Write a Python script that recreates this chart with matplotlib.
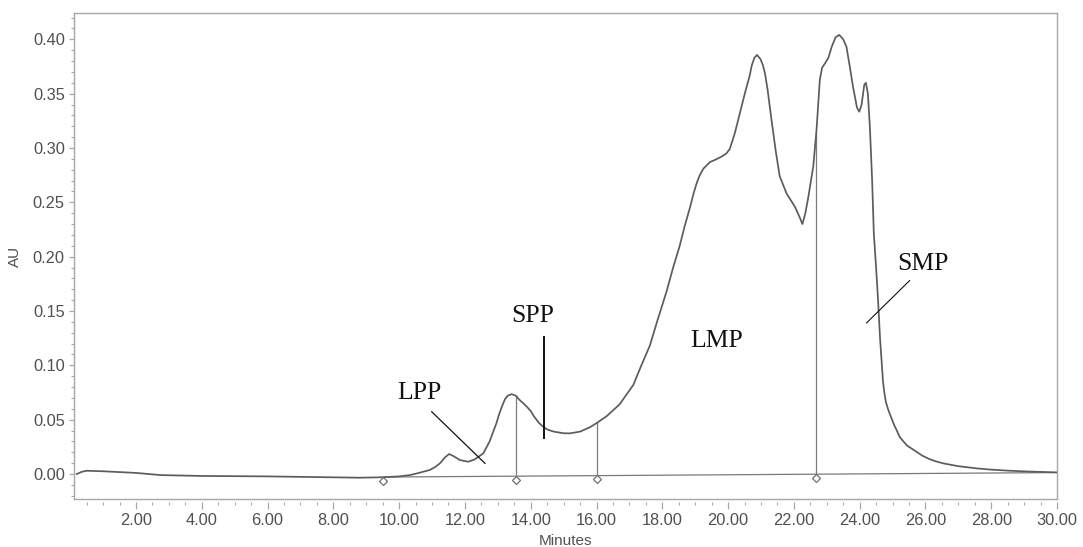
import numpy as np
import matplotlib
matplotlib.use("Agg")
import matplotlib.pyplot as plt
from matplotlib.lines import Line2D
from matplotlib.ticker import MultipleLocator, FormatStrFormatter

# ---- data ----
minutes = [0.20, 0.35, 0.50, 1.00, 2.00, 2.75, 4.00, 6.00, 8.00, 8.80, 9.50, 10.00,
           10.33, 10.60, 10.93, 11.10, 11.24, 11.40, 11.52, 11.65, 11.85, 12.10, 12.30,
           12.56, 12.75, 12.96, 13.05, 13.15, 13.22, 13.30, 13.42, 13.55, 13.62, 13.70,
           13.78, 13.88, 14.00, 14.10, 14.25, 14.38, 14.50, 14.70, 15.00, 15.19, 15.50,
           15.80, 16.02, 16.30, 16.70, 17.12, 17.35, 17.62, 17.85, 18.13, 18.33, 18.53,
           18.68, 18.84, 18.95, 19.05, 19.14, 19.25, 19.45, 19.60, 19.80, 19.95, 20.05,
           20.20, 20.36, 20.50, 20.66, 20.72, 20.80, 20.88, 20.98, 21.05, 21.12, 21.20,
           21.32, 21.45, 21.57, 21.78, 22.03, 22.18, 22.26, 22.35, 22.44, 22.59, 22.69,
           22.79, 22.86, 22.95, 23.05, 23.15, 23.27, 23.38, 23.50, 23.60, 23.70, 23.80,
           23.92, 23.99, 24.06, 24.14, 24.19, 24.25, 24.31, 24.38, 24.43, 24.50, 24.56,
           24.62, 24.71, 24.75, 24.80, 24.86, 24.92, 25.05, 25.13, 25.22, 25.33, 25.45,
           25.60, 25.73, 25.90, 26.10, 26.30, 26.54, 27.00, 27.55, 28.00, 28.57, 29.20,
           29.88, 30.00]
au = [0.000, 0.002, 0.003, 0.0025, 0.001, -0.001, -0.0018, -0.0022, -0.0030, -0.0034,
      -0.0030, -0.0022, -0.001, 0.001, 0.0037, 0.0065, 0.0098, 0.0155, 0.0184, 0.0165,
      0.0128, 0.0113, 0.0135, 0.019, 0.030, 0.047, 0.056, 0.064, 0.069, 0.0720, 0.0735,
      0.0720, 0.0695, 0.067, 0.065, 0.062, 0.058, 0.053, 0.047, 0.0435, 0.041, 0.039,
      0.0375, 0.0374, 0.039, 0.043, 0.0472, 0.053, 0.064, 0.082, 0.099, 0.118, 0.141,
      0.168, 0.190, 0.210, 0.228, 0.245, 0.258, 0.268, 0.275, 0.281, 0.287, 0.289,
      0.292, 0.295, 0.299, 0.313, 0.332, 0.349, 0.367, 0.376, 0.383, 0.3856, 0.382,
      0.377, 0.369, 0.354, 0.326, 0.297, 0.274, 0.258, 0.246, 0.236, 0.230, 0.240,
      0.255, 0.283, 0.317, 0.363, 0.374, 0.378, 0.383, 0.393, 0.402, 0.404, 0.400,
      0.393, 0.375, 0.356, 0.337, 0.3334, 0.340, 0.358, 0.360, 0.350, 0.320, 0.270,
      0.222, 0.190, 0.160, 0.125, 0.085, 0.075, 0.066, 0.060, 0.055, 0.045, 0.040,
      0.034, 0.030, 0.026, 0.023, 0.0205, 0.0170, 0.014, 0.0118, 0.0098, 0.0072,
      0.0052, 0.004, 0.003, 0.0022, 0.0016, 0.0015]

baseline_t = [9.52, 30.00]
baseline_v = [-0.0028, 0.0013]
cut_times = [9.52, 13.55, 16.02, 22.68]

labels = ["LPP", "SPP", "LMP", "SMP"]
label_t = [10.63, 14.05, 19.65, 25.92]
label_v = [0.0745, 0.1454, 0.1227, 0.1932]
# leader lines: (t0, v0, t1, v1, width)
leaders = [(10.99, 0.0573, 12.61, 0.0098, 0.9),
           (14.40, 0.1264, 14.40, 0.0328, 1.4),
           (25.52, 0.1780, 24.21, 0.1390, 0.8)]

xticks = np.arange(2, 31, 2)
yticks = np.arange(0, 0.41, 0.05)

# ---- figure ----
fig = plt.figure(figsize=(10.83, 5.47), dpi=100)
ax = fig.add_axes([74/1083, 1-499/547, (1057-74)/1083, (499-13)/547])

curve_c = "#5c5c5c"
frame_c = "#a8a8a8"
text_c = "#505050"

ax.plot(minutes, au, color=curve_c, lw=1.25, zorder=3, solid_joinstyle="round")

# integration baseline and drop lines
ax.plot(baseline_t, baseline_v, color="#7a7a7a", lw=0.9, zorder=2)
for t in cut_times[1:]:
    top = np.interp(t, minutes, au)
    bot = np.interp(t, baseline_t, baseline_v)
    ax.plot([t, t], [bot, top], color="#7a7a7a", lw=0.9, zorder=2)
mk_v = np.interp(cut_times, baseline_t, baseline_v) - 0.0033
ax.plot(cut_times, mk_v, linestyle="none", marker="D", ms=4.5,
        mfc="white", mec="#707070", mew=0.9, zorder=4)

# annotations
for lab, t, v in zip(labels, label_t, label_v):
    ax.text(t, v, lab, family=["Liberation Serif", "DejaVu Serif"], fontsize=18.5,
            color="#111111", ha="center", va="center", zorder=5)
for t0, v0, t1, v1, w in leaders:
    ax.plot([t0, t1], [v0, v1], color="#111111", lw=w, zorder=5)

ax.set_xlim(0.115, 30.0)
ax.set_ylim(-0.023, 0.4242)

ax.set_xticks(xticks)
ax.set_yticks(yticks)
ax.xaxis.set_minor_locator(MultipleLocator(0.5))
ax.yaxis.set_minor_locator(MultipleLocator(0.01))
ax.xaxis.set_major_formatter(FormatStrFormatter("%.2f"))
ax.yaxis.set_major_formatter(FormatStrFormatter("%.2f"))

for s in ax.spines.values():
    s.set_color(frame_c)
    s.set_linewidth(1.0)
ax.spines["bottom"].set_position(("outward", 2.2))
ax.spines["bottom"].set_color("none")
ax.add_line(Line2D([0, 1], [0, 0], transform=ax.transAxes, color=frame_c,
                   lw=1.0, clip_on=False))

ax.tick_params(axis="x", which="major", length=5, width=0.9, color=frame_c,
               labelsize=11.8, labelcolor=text_c, pad=3)
ax.tick_params(axis="x", which="minor", length=2.5, width=0.8, color=frame_c)
ax.tick_params(axis="y", which="major", length=3.6, width=0.9, color=frame_c,
               labelsize=11.8, labelcolor=text_c, pad=3)
ax.tick_params(axis="y", which="minor", length=2.2, width=0.8, color=frame_c)
for lab in ax.get_xticklabels() + ax.get_yticklabels():
    lab.set_family(["Liberation Sans", "DejaVu Sans"])

ax.set_xlabel("Minutes", family=["Liberation Sans", "DejaVu Sans"], fontsize=11,
              color=text_c, labelpad=4)
ax.set_ylabel("AU", family=["Liberation Sans", "DejaVu Sans"], fontsize=11,
              color=text_c, labelpad=8)

fig.savefig("out.png", dpi=100)
